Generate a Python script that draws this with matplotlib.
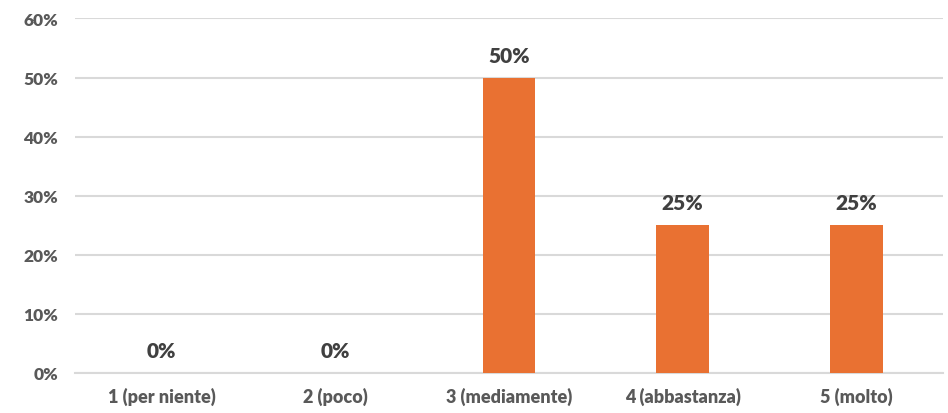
import matplotlib.pyplot as plt
import numpy as np

categories = ['1 (per niente)', '2 (poco)', '3 (mediamente)', '4 (abbastanza)', '5 (molto)']
values = [0, 0, 50, 25, 25]

plt.rcParams['font.family'] = ['Lato', 'DejaVu Sans']

fig = plt.figure(figsize=(9.48, 4.14), dpi=100)
ax = fig.add_axes([0.0791, 0.0978, 0.9156, 0.8551])

x = np.arange(len(categories))
ax.bar(x, values, width=0.305, color='#E97132', zorder=3)

for xi, v in zip(x, values):
    ax.text(xi, v + 2.2, f'{v}%', ha='center', va='bottom', fontsize=15,
            fontweight='heavy', color='#404040')

ax.set_xlim(-0.5, len(categories) - 0.5)
ax.set_ylim(0, 60)
ax.set_yticks(range(0, 61, 10))
ax.set_yticklabels([f'{t}%' for t in range(0, 61, 10)])
ax.set_xticks(x)
ax.set_xticklabels(categories)

ax.grid(axis='y', color='#D9D9D9', linewidth=1.5, zorder=0)
for s in ['top', 'right', 'left']:
    ax.spines[s].set_visible(False)
ax.spines['bottom'].set_color('#D9D9D9')
ax.spines['bottom'].set_linewidth(1.5)

ax.tick_params(axis='both', length=0, colors='#595959')
ax.tick_params(axis='y', pad=12)
ax.tick_params(axis='x', pad=10)
for lbl in ax.get_yticklabels():
    lbl.set_fontsize(12.5)
    lbl.set_fontweight('heavy')
for lbl in ax.get_xticklabels():
    lbl.set_fontsize(13)
    lbl.set_fontweight('heavy')

fig.savefig('out.png', dpi=100)
